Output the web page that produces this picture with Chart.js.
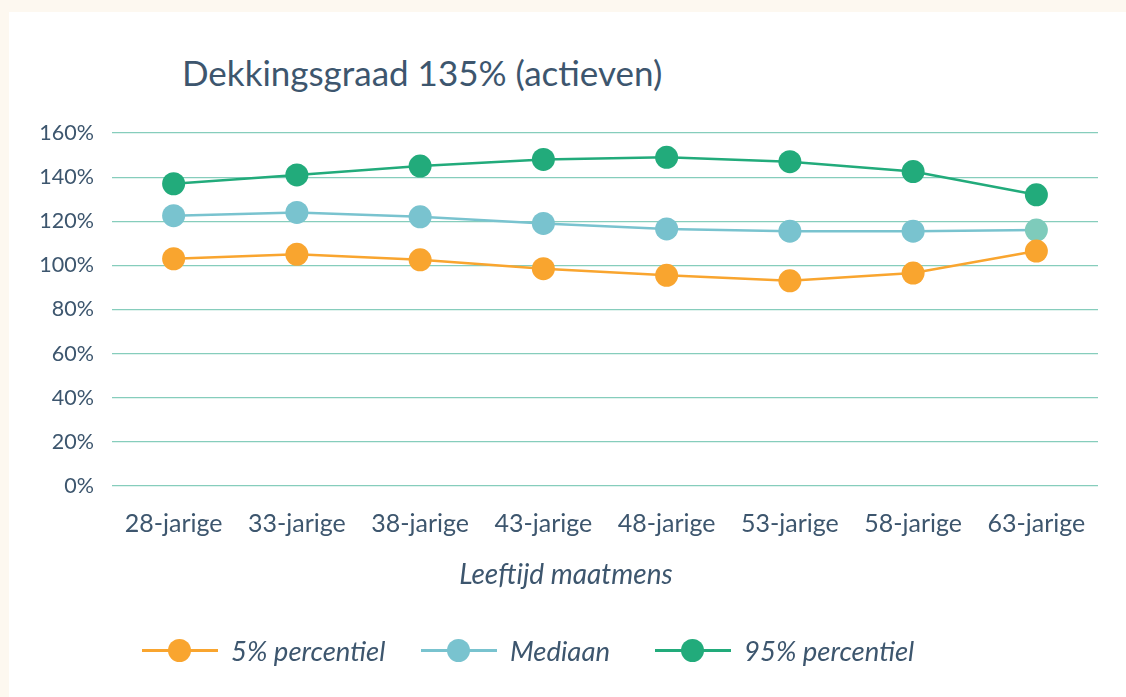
<!DOCTYPE html>
<html>
<head>
<meta charset="utf-8">
<script src="https://cdn.jsdelivr.net/npm/chart.js@4"></script>
<style>
  html,body{margin:0;padding:0;background:#fdf8f0;width:1126px;height:697px;overflow:hidden;font-family:Lato,"Open Sans",sans-serif;color:#3d566e;}
  #panel{position:absolute;left:9px;top:12px;right:0;bottom:0;background:#fff;}
  #wrap{position:absolute;left:0;top:0;width:1126px;height:697px;}
  #title{position:absolute;left:182px;top:50px;font-size:35px;line-height:44px;white-space:nowrap;color:#3d566e;}
  #xtitle{position:absolute;left:566px;top:556px;transform:translateX(-50%);font-size:28px;font-style:italic;line-height:34px;white-space:nowrap;color:#3d566e;}
  #legend{position:absolute;left:0;top:632px;width:1126px;height:36px;}
  .li{position:absolute;top:0;height:36px;display:flex;align-items:center;}
  .mk{position:relative;width:76px;height:22px;margin-right:13px;}
  .mk .ln{position:absolute;left:0;right:0;top:9.5px;height:3px;}
  .mk .dt{position:absolute;left:26px;top:0;width:23px;height:23px;margin-top:-0.5px;border-radius:50%;}
  .lt{font-size:27.5px;font-style:italic;white-space:nowrap;color:#3d566e;}
</style>
</head>
<body>
<div id="panel"></div>
<div id="title">Dekkingsgraad 135% (actieven)</div>
<div id="wrap"><canvas id="c" width="1126" height="697"></canvas></div>
<div id="xtitle">Leeftijd maatmens</div>
<div id="legend"></div>
<script>
const categories = ["28-jarige","33-jarige","38-jarige","43-jarige","48-jarige","53-jarige","58-jarige","63-jarige"];
const p5 = [103, 105, 102.5, 98.5, 95.5, 93, 96.5, 106.5];
const mediaan = [122.5, 124, 122, 119, 116.5, 115.5, 115.5, 116];
const p95 = [137, 141, 145, 148, 149, 147, 142.5, 132];
const seriesLabels = ["5% percentiel","Mediaan","95% percentiel"];
const yTicks = [0,20,40,60,80,100,120,140,160];

const colors = ["#f9a52f","#79c3cf","#22ab7b"];
const textColor = "#3d566e";
const gridColor = "#86cdbc";
const legendLeft = [142, 421, 655];

const medPointColors = mediaan.map((v,i)=> i===mediaan.length-1 ? "#7ecbbb" : colors[1]);

const datasets = [
  {label:seriesLabels[0], data:p5, borderColor:colors[0], backgroundColor:colors[0], pointBackgroundColor:colors[0]},
  {label:seriesLabels[1], data:mediaan, borderColor:colors[1], backgroundColor:colors[1], pointBackgroundColor:medPointColors},
  {label:seriesLabels[2], data:p95, borderColor:colors[2], backgroundColor:colors[2], pointBackgroundColor:colors[2]}
].map(d=>Object.assign(d,{borderWidth:2.5, pointRadius:11.5, pointHoverRadius:11.5, pointBorderWidth:0, tension:0, fill:false}));

new Chart(document.getElementById('c'), {
  type:'line',
  data:{labels:categories, datasets:datasets},
  options:{
    responsive:false,
    animation:false,
    layout:{padding:{left:0,right:28,top:133,bottom:0}},
    plugins:{legend:{display:false}, title:{display:false}, tooltip:{enabled:false}},
    scales:{
      x:{
        offset:true,
        grid:{display:false, drawTicks:false},
        border:{display:false},
        ticks:{color:textColor, font:{family:'Lato', size:25}, padding:23, maxRotation:0, autoSkip:false},
        afterFit:(s)=>{s.height=211;}
      },
      y:{
        min:0, max:160,
        afterBuildTicks:(s)=>{s.ticks=yTicks.map(v=>({value:v}));},
        grid:{color:gridColor, lineWidth:1.2, drawTicks:false},
        border:{display:false},
        ticks:{color:textColor, font:{family:'Lato', size:21.5}, padding:18, callback:(v)=>v+'%'},
        afterFit:(s)=>{s.width=112;}
      }
    }
  }
});

const lg = document.getElementById('legend');
seriesLabels.forEach((l,i)=>{
  const it=document.createElement('div'); it.className='li'; it.style.left=legendLeft[i]+'px';
  it.innerHTML='<div class="mk"><div class="ln" style="background:'+colors[i]+'"></div><div class="dt" style="background:'+colors[i]+'"></div></div><span class="lt">'+l+'</span>';
  lg.appendChild(it);
});
</script>
</body>
</html>
